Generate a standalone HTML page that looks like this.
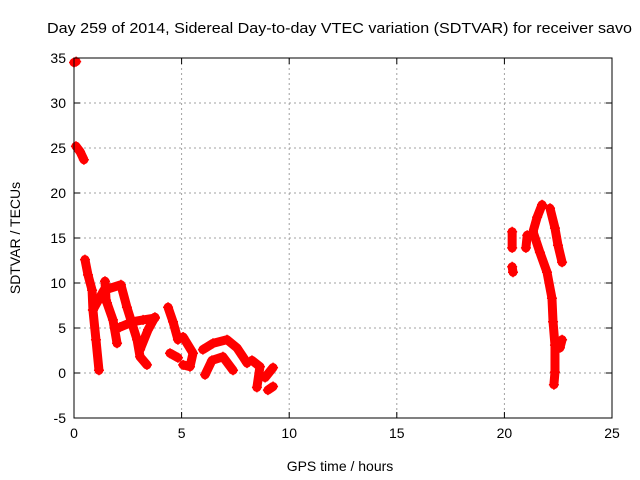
<!DOCTYPE html>
<html><head><meta charset="utf-8"><style>
body{margin:0;background:#fff;}
svg{display:block;font-family:"Liberation Sans",sans-serif;}
</style></head><body>
<svg id="chart" width="640" height="480" viewBox="0 0 640 480">
<rect width="640" height="480" fill="#fff"/>
<text x="47" y="33" font-size="15" textLength="585" lengthAdjust="spacingAndGlyphs">Day 259 of 2014, Sidereal Day-to-day VTEC variation (SDTVAR) for receiver savo</text>
<text transform="translate(20,238) rotate(-90)" font-size="14" text-anchor="middle">SDTVAR / TECUs</text>
<text x="340" y="471" font-size="14" text-anchor="middle">GPS time / hours</text>
<g id="grid"></g><g id="ticks"></g><g id="marks"></g>
<rect x="74" y="58" width="538" height="360" fill="none" stroke="#000" stroke-width="1"/>
</svg>
<script>
const xTicks=[0,5,10,15,20,25];
const yTicks=[-5,0,5,10,15,20,25,30,35];
const segHours=[
[0,0.1],[0.09,0.28,0.46],[0.51,0.65,0.84,0.88,1.02,1.16],
[0.88,1.39,2.18,2.46,2.93,3.07,3.39],[3.07,3.44,3.76],[1.53,1.81,2.0],[2.14,2.74,3.21,3.76],[1.44,1.49],
[4.37,4.6,4.83],[4.46,4.83],[5.07,5.53,5.39,5.07],
[5.99,6.46,7.11,7.57,7.85,8.04],[6.09,6.41,6.92,7.39],
[8.27,8.64,8.5],[8.88,9.25],[9.01,9.25],
[20.36,20.36],[20.36,20.4],[21.06,21.0],
[21.75,21.52,21.33,21.65,21.98,22.21,22.26,22.35,22.35,22.3],
[22.12,22.35,22.49,22.68],[22.68,22.58]];
const segValues=[
[34.5,34.6],[25.2,24.6,23.7],[12.6,10.9,9.2,7.0,3.7,0.3],
[7.0,9.2,9.8,7.3,3.7,1.8,0.9],[2.6,4.8,6.2],[7.8,5.9,3.3],[5.1,5.7,5.9,6.1],[10.2,8.1],
[7.3,5.7,3.7],[2.2,1.7],[4.0,2.2,0.7,0.9],
[2.6,3.3,3.7,2.8,1.8,1.1],[-0.2,1.4,1.8,0.3],
[1.4,0.7,-1.6],[-0.5,0.6],[-1.9,-1.5],
[15.7,13.9],[11.8,11.2],[15.3,13.9],
[18.7,17.3,15.7,13.4,11.2,8.3,5.7,3.1,0.1,-1.3],
[18.3,16.1,14.2,12.3],[3.7,2.8]];
const X0=74,X1=612,Y0=418,Y1=58;
const sx=t=>X0+(t-0)/(25-0)*(X1-X0);
const sy=v=>Y0-(v+5)/(40)*(Y0-Y1);
const NS="http://www.w3.org/2000/svg";
const grid=document.getElementById('grid'),ticks=document.getElementById('ticks'),marks=document.getElementById('marks');
function mk(tag,attrs,parent){const e=document.createElementNS(NS,tag);for(const k in attrs)e.setAttribute(k,attrs[k]);parent.appendChild(e);return e;}
xTicks.forEach(t=>{const x=sx(t);
 if(t>0&&t<25){const g=mk('line',{x1:x,x2:x,y1:Y1,y2:Y0,stroke:'#a0a0a0','stroke-dasharray':'2,3'},grid);
 
 }
 mk('line',{x1:x,x2:x,y1:Y0,y2:Y0-6,stroke:'#000'},ticks);mk('line',{x1:x,x2:x,y1:Y1,y2:Y1+6,stroke:'#000'},ticks);
 const l=mk('text',{x:x,y:Y0+20,'font-size':14,'text-anchor':'middle'},ticks);l.textContent=t;
 
 });
yTicks.forEach(v=>{const y=sy(v);
 if(v>-5&&v<35){const g=mk('line',{x1:X0,x2:X1,y1:y,y2:y,stroke:'#a0a0a0','stroke-dasharray':'2,3'},grid);
 
 }
 mk('line',{x1:X0,x2:X0+6,y1:y,y2:y,stroke:'#000'},ticks);mk('line',{x1:X1,x2:X1-6,y1:y,y2:y,stroke:'#000'},ticks);
 const l=mk('text',{x:X0-8,y:y+5,'font-size':14,'text-anchor':'end'},ticks);l.textContent=v;
 
 });
segHours.forEach((hs,i)=>{const vs=segValues[i];
 const pts=hs.map((h,j)=>sx(h)+','+sy(vs[j])).join(' ');
 const p=mk('polyline',{points:pts,fill:'none',stroke:'#ff0000','stroke-width':9,'stroke-linecap':'round','stroke-linejoin':'round'},marks);
 
 
 hs.forEach((h,j)=>{const x=sx(h),y=sy(vs[j]);
  const m=mk('path',{d:`M${x-5},${y}H${x+5}M${x},${y-5}V${y+5}`,stroke:'#ff0000','stroke-width':1.5},marks);
  
  });
});
</script>
</body></html>
